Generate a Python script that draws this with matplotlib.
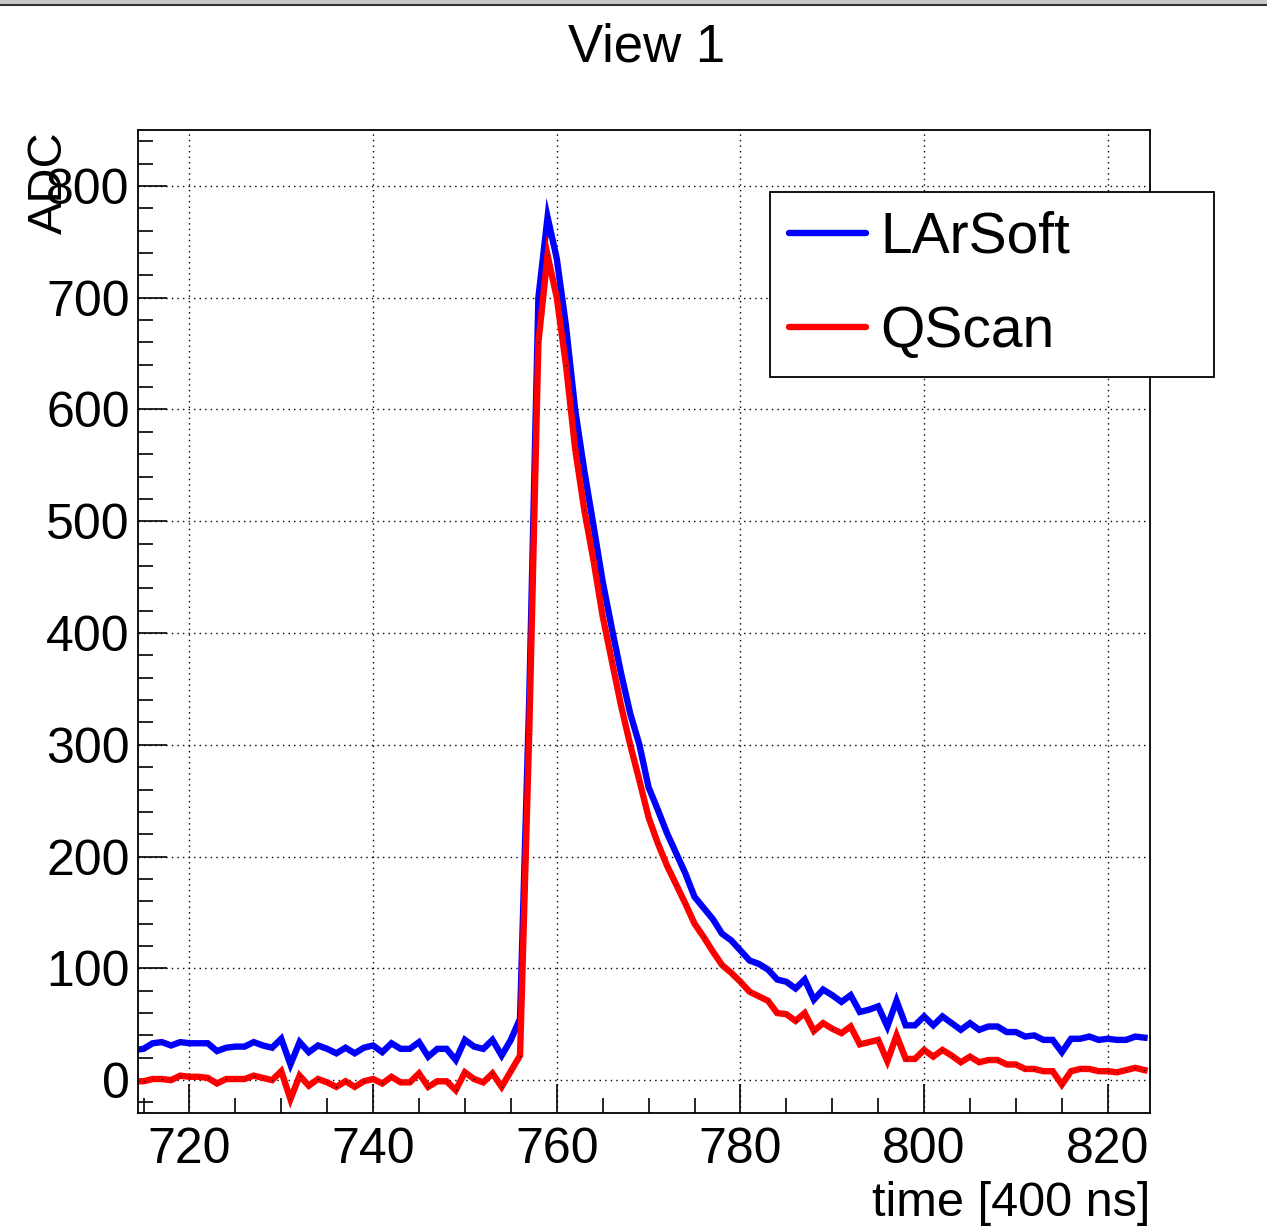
import numpy as np
import matplotlib.pyplot as plt
from matplotlib.ticker import MultipleLocator
from matplotlib.patches import Rectangle
from matplotlib.lines import Line2D

plt.rcParams['font.family'] = ['Liberation Sans', 'DejaVu Sans']

# ADC per time tick, first bin at t0
t0 = 714
larsoft = [27, 28, 33, 34, 31, 34, 33, 33, 33, 26, 29, 30, 30, 34, 31, 29, 37, 14, 34, 25,
           31, 28, 24, 29, 24, 29, 31, 25, 33, 28, 28, 34, 21, 28, 28, 18, 36, 30, 28, 36,
           22, 36, 55, 340, 700, 772, 735, 675, 600, 545, 496, 446, 404, 364, 328, 300, 262, 242, 221, 203,
           185, 164, 154, 144, 131, 125, 116, 107, 104, 99, 90, 88, 82, 90, 72, 81, 76, 70, 76, 61,
           63, 66, 48, 71, 49, 49, 57, 49, 57, 51, 45, 51, 45, 48, 48, 43, 43, 39, 40, 36,
           36, 25, 37, 37, 39, 36, 37, 36, 36, 39, 38]
qscan = [-1, -1, 1, 1, 0, 4, 3, 3, 2, -3, 1, 1, 1, 4, 2, 0, 8, -17, 4, -5,
         1, -2, -6, -1, -6, -1, 1, -3, 3, -2, -2, 6, -6, -1, -1, -9, 7, 1, -2, 6,
         -6, 8, 22, 310, 660, 738, 700, 640, 565, 510, 465, 415, 375, 335, 300, 268, 235, 212, 192, 175,
         158, 140, 128, 115, 103, 96, 88, 79, 75, 71, 60, 59, 53, 60, 44, 51, 46, 42, 48, 32,
         34, 36, 17, 40, 19, 19, 27, 21, 27, 22, 16, 21, 16, 18, 18, 14, 14, 10, 10, 8,
         8, -4, 8, 10, 10, 8, 8, 7, 9, 11, 9]
time = np.arange(t0, t0 + len(larsoft))

W, H = 1267, 1232
fig = plt.figure(figsize=(W / 100, H / 100), dpi=100)
ax = fig.add_axes([138 / W, 1 - 1113 / H, (1150 - 138) / W, (1113 - 130) / H])

ax.plot(time, larsoft, color='#0000ff', lw=4.6, label='LArSoft',
        marker='o', ms=0.9, mfc='black', mew=0, solid_joinstyle='miter')
ax.plot(time, qscan, color='#ff0000', lw=4.6, label='QScan',
        marker='o', ms=0.9, mfc='black', mew=0, solid_joinstyle='miter')

ax.set_xlim(714.4, 824.6)
ax.set_ylim(-29.4, 850)
ax.xaxis.set_major_locator(MultipleLocator(20))
ax.xaxis.set_minor_locator(MultipleLocator(5))
ax.yaxis.set_major_locator(MultipleLocator(100))
ax.yaxis.set_minor_locator(MultipleLocator(20))
ax.tick_params(which='both', direction='in', top=False, right=False, labelsize=36, width=1.2)
ax.tick_params(which='major', length=21)
ax.tick_params(which='minor', length=11)
ax.tick_params(axis='x', pad=10)
ax.tick_params(axis='y', pad=6)
ax.grid(True, which='major', color='black', linestyle=(0, (1, 3)), linewidth=1.0)
for s in ax.spines.values():
    s.set_linewidth(1.3)

fig.text(647 / W, 1 - 48 / H, 'View 1', ha='center', va='center', fontsize=38)
fig.text(1150 / W, 1 - 1203 / H, 'time [400 ns]', ha='right', va='center', fontsize=35)
fig.text(49 / W, 1 - 131 / H, 'ADC', ha='center', va='top', rotation=90, fontsize=35)

leg = ax.legend(loc='upper left', bbox_to_anchor=(770 / W, 1 - 376 / H, 444 / W, 184 / H),
                bbox_transform=fig.transFigure, mode='expand', fontsize=41, frameon=True,
                fancybox=False, edgecolor='black', framealpha=1, borderpad=0.33,
                labelspacing=0.7, handlelength=1.35, handletextpad=0.25, borderaxespad=0)
leg.get_frame().set_linewidth(1.3)
for ln in leg.get_lines():
    ln.set_marker('')
    ln.set_linewidth(4.6)
    ln.set_solid_capstyle('round')

# window frame strip at top
fig.add_artist(Rectangle((0, 1 - 4 / H), 1, 4 / H, transform=fig.transFigure, color='#c8c8c8'))
fig.add_artist(Line2D([0, 1], [1 - 5 / H, 1 - 5 / H], transform=fig.transFigure, color='#333333', lw=1.5))

plt.savefig('out.png', dpi=100)
